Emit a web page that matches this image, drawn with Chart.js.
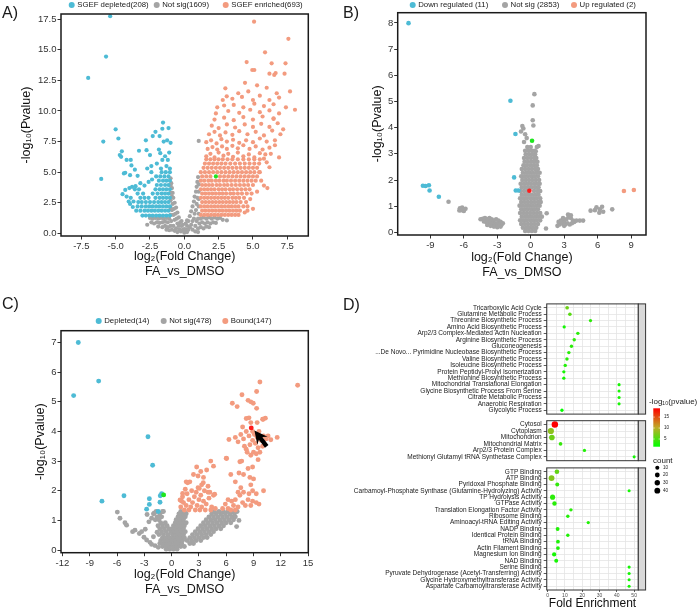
<!DOCTYPE html>
<html lang="en">
<head>
<meta charset="UTF-8">
<title>FA vs DMSO - volcano plots and enrichment</title>
<script src="https://cdn.jsdelivr.net/npm/chart.js@4.4.0/dist/chart.umd.min.js"></script>
<style>
  body { margin: 0; background: #fff; }
  #page { position: relative; width: 700px; height: 611px; overflow: hidden; font-family: "Liberation Sans", Arial, sans-serif; }
  canvas { position: absolute; }
  .tag { position: absolute; font-size: 16px; line-height: 16px; color: #1a1a1a; }
</style>
</head>
<body>
<div id="page">
  <canvas id="chartA" width="330" height="280" style="left:0;top:0"></canvas>
  <canvas id="chartB" width="350" height="281" style="left:350px;top:0"></canvas>
  <canvas id="chartC" width="330" height="300" style="left:0;top:300px"></canvas>
  <canvas id="chartD1" width="300" height="122" style="left:350px;top:298px"></canvas>
  <canvas id="chartD2" width="350" height="102" style="left:350px;top:398px"></canvas>
  <canvas id="chartD3" width="300" height="149" style="left:350px;top:462px"></canvas>
  <div class="tag" style="left:2px;top:5px">A)</div>
  <div class="tag" style="left:343px;top:5px">B)</div>
  <div class="tag" style="left:2px;top:296px">C)</div>
  <div class="tag" style="left:343px;top:297px">D)</div>
</div>

<script>
  // ---------- Panel A : SGEF pulldown ----------
  const depletedA = [
    [-5.4,17.75],[-5.7,14.45],[-7.0,12.7],[-5.0,8.5],[-5.9,7.5],[-4.8,7.75],[-6.05,4.45],
    [-4.55,6.7],[-4.7,6.4],[-4.6,6.25],[-4.2,6.0],[-3.9,6.0],[-3.85,5.55],[-4.3,4.95],[-4.4,4.9],
    [-3.95,4.75],[-3.4,4.7],[-3.6,5.2],[-3.3,6.75],[-2.8,7.6],[-2.3,7.95],[-1.8,7.95],[-1.6,8.55],
    [-1.15,8.6],[-1.55,9.05],[-2.1,8.3],[-1.5,7.5],[-1.25,7.6],[-1.0,7.4],[-1.85,6.85],[-1.75,6.55],
    [-2.75,6.8],[-2.5,6.4],[-1.4,6.3],[-1.1,6.6],[-1.2,6.0],[-1.6,6.0],[-2.0,5.7],[-2.4,5.5],
    [-1.3,5.5],[-1.05,5.3],[-1.7,5.3],[-3.8,3.8],[-3.55,3.85],[-4.0,3.7],[-4.3,3.55],[-4.5,3.2],
    [-4.2,3.0],[-3.9,2.9],[-3.7,2.6],[-3.95,2.4],[-3.75,2.15],[-4.05,2.6],[-2.6,4.2],[-2.4,5.0],
    [-2.7,5.3],[-2.35,4.4],[-2.9,3.9],[-3.2,4.1]
  ];
  // dense part of the depleted group: [-log10 p, log2 FC ...]
  const depletedRowsA = [
    [1.45, -1.05,-1.3,-1.55,-1.8,-2.05,-2.3,-2.55,-2.8,-3.05],
    [1.85, -1.15,-1.4,-1.65,-1.9,-2.15,-2.4,-2.65,-2.9,-3.2,-3.5],
    [2.2, -1.05,-1.3,-1.55,-1.8,-2.05,-2.3,-2.55,-2.8,-3.1,-3.4],
    [2.55, -1.15,-1.4,-1.65,-1.9,-2.2,-2.5,-2.8,-3.1,-3.35],
    [2.9, -1.05,-1.3,-1.55,-1.8,-2.1,-2.6,-2.9,-3.2],
    [3.25, -1.15,-1.4,-1.65,-1.95,-2.3,-3.0,-3.4],
    [3.6, -1.05,-1.3,-1.55,-1.8,-2.1,-3.3,-3.6],
    [3.95, -1.15,-1.4,-1.7,-2.0],
    [4.3, -1.05,-1.3,-1.55,-1.85],
    [4.65, -1.15,-1.45,-1.75,-2.05],
    [5.0, -1.05,-1.35,-1.65]
  ];
  const notSigA = [
    [-1.0,4.5],[-0.95,4.1],[-0.9,3.7],[-0.85,3.3],[-0.8,2.9],[-0.7,2.5],[-0.6,2.1],[-0.5,1.7],
    [-0.4,1.3],[-0.3,0.9],[-0.2,0.6],[-0.1,0.3],[0,0.05],[-1.0,3.9],[-1.0,3.3],[-1.0,2.7],
    [-1.0,2.1],[-1.0,1.5],[-0.9,3.0],[-0.85,2.4],[-0.9,1.9],[-0.75,2.0],[-0.8,1.5],[-0.65,1.6],
    [-0.7,1.1],[-0.55,1.2],[-0.5,0.8],[-0.4,0.6],[-0.35,0.3],[-0.25,0.15],[-0.6,0.4],[-0.8,0.6],
    [-0.95,1.0],[-1.1,1.2],[-1.3,1.25],[-1.5,1.2],[-1.7,1.25],[-1.9,1.2],[-2.1,1.25],[-2.3,1.2],
    [-2.5,1.25],[-2.7,0.7],[-1.2,0.9],[-1.4,0.95],[-1.6,0.9],[-1.8,0.85],[-2.0,0.9],[-2.2,0.8],
    [-2.4,0.9],[-1.0,0.6],[-1.2,0.5],[-1.4,0.6],[-1.6,0.5],[-1.9,0.55],[-0.7,0.2],[-0.9,0.3],
    [-1.1,0.25],[-1.3,0.3],[-0.5,0.1],[0,0.35],[-0.1,0.7],[0.1,0.8],[-0.2,1.0],[0.2,1.05],
    [1.0,4.6],[0.95,4.2],[0.9,3.8],[0.85,3.4],[0.75,3.0],[0.7,2.6],[0.6,2.2],[0.5,1.8],
    [0.4,1.4],[0.3,1.0],[0.2,0.6],[0.1,0.3],[1.05,4.0],[1.05,3.4],[1.05,2.8],[1.05,2.2],
    [1.05,1.6],[0.95,2.9],[0.9,2.4],[0.85,1.9],[0.75,1.6],[0.7,1.2],[0.6,1.0],[0.5,0.7],
    [0.4,0.5],[0.3,0.3],[0.2,0.1],[0.6,0.3],[0.8,0.6],[0.9,1.0],[1.0,1.2],[1.2,1.2],
    [1.4,1.3],[1.6,1.2],[1.8,1.3],[2.0,1.2],[2.2,1.3],[2.4,1.2],[2.6,1.25],[2.8,1.1],
    [3.1,1.05],[1.1,0.8],[1.3,0.9],[1.5,0.8],[1.7,0.9],[1.9,0.8],[2.1,0.9],[2.3,0.85],
    [1.0,0.4],[1.2,0.5],[1.4,0.4],[1.6,0.55],[1.8,0.5],[0.8,0.15],[1.0,0.1],[1.05,7.55]
  ];
  const enrichedRowsA = [
    [1.5, 1.2,1.45,1.7,1.95,2.2,2.45,2.7,2.95,3.2,3.45,3.7,3.95],
    [1.85, 1.3,1.55,1.8,2.05,2.3,2.55,2.8,3.05,3.3,3.55,3.8,4.05,4.6],
    [2.2, 1.2,1.45,1.7,1.95,2.2,2.45,2.7,2.95,3.2,3.45,3.7,3.95,4.3],
    [2.55, 1.3,1.55,1.8,2.05,2.3,2.55,2.8,3.05,3.3,3.55,3.8,4.1,4.5],
    [2.9, 1.2,1.45,1.7,1.95,2.2,2.45,2.7,2.95,3.2,3.5,3.75,4.0,4.35],
    [3.25, 1.3,1.55,1.8,2.05,2.3,2.55,2.8,3.05,3.35,3.6,3.9,4.2,4.55,4.9],
    [3.6, 1.2,1.45,1.7,1.95,2.2,2.5,2.75,3.0,3.3,3.55,3.85,4.15,4.45,4.75],
    [3.95, 1.3,1.55,1.8,2.05,2.35,2.6,2.9,3.15,3.45,3.75,4.05,4.35,4.65,5.0],
    [4.3, 1.2,1.45,1.75,2.0,2.3,2.55,2.85,3.1,3.4,3.7,4.0,4.3,4.6,4.9,5.2],
    [4.65, 1.3,1.6,1.9,2.6,2.9,3.2,3.5,3.8,4.1,4.4,4.7,5.0,5.3],
    [5.0, 1.2,1.5,1.8,2.1,2.4,2.7,3.0,3.3,3.6,3.9,4.2,4.5,4.8,5.1,5.45],
    [5.35, 1.4,1.7,2.0,2.3,2.6,2.9,3.2,3.5,3.8,4.1,4.4,4.7,5.0,5.3],
    [5.7, 1.5,1.8,2.1,2.4,2.7,3.0,3.35,3.7,4.05,4.4,4.75,5.1,5.45],
    [6.05, 1.6,1.9,2.2,2.5,2.8,3.15,3.5,3.9,4.3,4.7,5.1,5.5]
  ];
  const enrichedA = [
    [1.6,6.3],[1.9,6.5],[2.2,6.2],[2.5,6.6],[2.85,6.35],[3.2,6.5],[3.55,6.25],[3.9,6.6],[4.3,6.3],
    [4.7,6.45],[5.1,6.2],[5.5,6.55],[5.9,6.45],[1.7,6.9],[2.05,7.05],[2.4,6.85],[2.75,7.1],[3.1,6.9],
    [3.5,7.15],[3.9,6.95],[4.3,7.2],[4.75,6.9],[5.2,7.1],[5.7,6.85],[6.2,7.0],[1.6,7.45],[1.95,7.6],
    [2.35,7.35],[2.7,7.7],[3.1,7.5],[3.55,7.65],[4.0,7.4],[4.5,7.6],[5.0,7.45],[5.5,7.75],[6.0,7.5],
    [6.6,7.6],[1.8,8.1],[2.2,8.3],[2.6,8.0],[3.0,8.25],[3.5,8.05],[4.0,8.35],[4.6,8.1],[5.2,8.3],
    [5.8,8.0],[6.4,8.4],[2.0,8.8],[2.5,8.6],[3.1,8.9],[3.7,8.65],[4.4,8.9],[5.0,8.7],[5.6,8.95],
    [6.2,8.7],[6.8,9.0],[2.2,9.3],[2.9,9.45],[3.6,9.25],[4.3,9.5],[5.0,9.3],[5.7,9.55],[6.5,9.35],
    [2.3,9.8],[3.2,10.0],[4.0,9.85],[4.8,10.1],[5.5,9.9],[6.2,10.05],[6.9,9.8],[7.4,10.3],[8.06,10.1],
    [2.4,10.3],[2.9,10.45],[3.6,10.5],[4.3,10.3],[5.1,10.6],[5.8,10.4],[6.5,10.55],[2.8,10.9],
    [3.5,11.0],[4.2,11.15],[5.0,10.9],[5.5,11.25],[6.2,10.9],[6.9,11.1],[3.09,11.2],[3.93,11.45],
    [4.66,11.6],[6.73,11.45],[7.7,11.6],[2.99,11.85],[4.42,12.3],[5.3,12.1],[6.0,11.9],
    [6.2,13.05],[6.55,12.95],[6.65,13.1],[7.3,13.05],[4.95,13.35],[5.1,13.35],[4.54,14.0],
    [6.36,13.9],[7.37,13.9],[5.88,14.8],[7.58,15.9],[5.08,17.3],[6.05,3.7],[6.0,5.8],[6.3,6.5],
    [5.8,6.1],[6.6,7.2],[6.9,6.2],[7.0,8.1],[6.2,5.4],[5.6,4.3],[5.3,3.4],[4.8,2.8],[4.6,2.2],
    [4.4,1.7],[5.0,2.0],[5.8,3.9],[5.5,5.0],[7.2,8.5],[6.5,9.4]
  ];
  const markedA = [[2.3,4.65]];
  const xTicksA = [-7.5,-5,-2.5,0,2.5,5,7.5];
  const yTicksA = [0,2.5,5,7.5,10,12.5,15,17.5];

  // ---------- Panel B ----------
  const downB = [
    [-10.96,7.99],[-1.82,5.03],[-1.37,3.76],[-1.49,2.1],[-1.34,1.6],[-1.1,1.6],
    [-9.67,1.78],[-9.43,1.77],[-9.13,1.8],[-9.07,1.6],[-8.24,1.36]
  ];
  const upB = [[8.36,1.58],[9.25,1.62]];
  const notSigRowsB = [
    [0.05, -0.5,-0.2,0.1,0.4],
    [0.18, -0.7,-0.4,-0.1,0.2,0.5],
    [0.32, -0.85,-0.55,-0.25,0.05,0.35,0.65],
    [0.46, -0.95,-0.65,-0.35,-0.05,0.25,0.55,0.85],
    [0.6, -0.8,-0.5,-0.2,0.1,0.4,0.7,1.0],
    [0.74, -0.95,-0.65,-0.35,-0.05,0.25,0.55,0.85],
    [0.88, -0.85,-0.55,-0.25,0.05,0.35,0.65],
    [1.02, -1.0,-0.7,-0.4,-0.1,0.2,0.5,0.8],
    [1.16, -0.85,-0.55,-0.25,0.05,0.35,0.65,0.9],
    [1.3, -0.95,-0.65,-0.35,-0.05,0.25,0.55,0.85],
    [1.44, -0.8,-0.5,-0.2,0.1,0.4,0.7],
    [1.58, -0.9,-0.6,-0.3,0.3,0.6,0.85],
    [1.72, -0.8,-0.5,-0.2,0.1,0.4,0.7],
    [1.86, -0.9,-0.6,-0.3,0.0,0.3,0.6,0.8],
    [2.0, -0.75,-0.45,-0.15,0.15,0.45,0.75],
    [2.14, -0.85,-0.55,-0.25,0.05,0.35,0.65],
    [2.28, -0.7,-0.4,-0.1,0.2,0.5,0.8],
    [2.42, -0.8,-0.5,-0.2,0.1,0.4,0.65],
    [2.56, -0.65,-0.35,-0.05,0.25,0.55],
    [2.7, -0.55,-0.25,0.05,0.35,0.6],
    [2.84, -0.6,-0.3,0.0,0.3,0.5],
    [2.98, -0.45,-0.15,0.15,0.4],
    [3.12, -0.5,-0.2,0.1,0.35],
    [3.26, -0.3,0.0,0.55]
  ];
  const notSigB = [
    [-0.75,4.06],[-0.66,3.97],[-0.87,3.85],[-0.5,3.75],[-0.36,3.6],[-0.6,3.45],[0.33,5.28],
    [0.18,4.85],[0.18,4.28],[0.24,4.08],[0.7,3.3],[0.45,3.1],[1.43,0.73],[1.37,0.15],
    [-7.37,1.17],[-6.35,0.92],[-6.15,0.95],[-5.95,0.88],[-6.25,0.85],[-6.4,0.84],[-6.0,0.82],[-5.85,0.9],
    [-4.3,0.52],[-4.1,0.55],[-3.9,0.5],[-3.7,0.55],[-3.5,0.5],[-3.3,0.45],[-3.1,0.5],[-2.9,0.45],
    [-2.7,0.4],[-4.2,0.42],[-4.0,0.4],[-3.8,0.38],[-3.6,0.4],[-3.4,0.35],[-3.2,0.32],[-3.0,0.35],
    [-2.8,0.3],[-2.6,0.3],[-3.9,0.28],[-3.6,0.25],[-3.3,0.22],[-3.0,0.2],[-2.7,0.22],[-2.5,0.35],
    [-4.5,0.5],[2.4,0.25],[2.6,0.3],[2.8,0.35],[3.0,0.4],[3.2,0.5],[3.4,0.6],[3.6,0.55],[3.8,0.45],
    [2.7,0.45],[2.9,0.55],[3.1,0.3],[3.3,0.35],[3.5,0.3],[3.7,0.35],[3.9,0.4],[4.1,0.45],[4.4,0.45],
    [4.7,0.45],[2.5,0.4],[3.0,0.25],[3.35,0.68],[3.6,0.65],[5.37,0.83],[5.76,0.85],[5.9,0.96],
    [6.2,0.88],[6.4,0.98],[6.15,0.75],[6.5,0.79],[7.31,0.88]
  ];
  const markedGreenB = [[0.12,3.5]];
  const markedRedB = [[-0.12,1.59]];
  const xTicksB = [-9,-6,-3,0,3,6,9];
  const yTicksB = [0,1,2,3,4,5,6,7,8];

  // ---------- Panel C ----------
  const depletedC = [
    [-10.26,7.0],[-8.02,5.7],[-10.77,5.21],[-2.6,3.82],[-2.09,2.86],[-7.66,1.65],[-5.24,1.83],
    [-2.45,1.73],[-2.45,1.54],[-2.75,1.38],[-1.25,1.83],[-1.28,1.61],[-1.47,1.3],[-1.1,1.9]
  ];
  const boundC = [
    [1.0,1.45],[1.3,1.6],[1.2,1.8],[1.6,1.5],[1.9,1.7],[1.7,1.9],[2.1,1.45],[2.3,1.6],[2.5,1.8],
    [2.2,2.0],[2.8,1.5],[3.0,1.7],[2.7,1.95],[3.3,1.45],[3.5,1.65],[3.2,1.85],[3.8,1.55],[4.1,1.75],
    [3.6,2.0],[4.4,1.45],[4.0,1.95],[2.9,2.1],[1.4,1.35],[1.9,1.35],[2.6,1.35],[3.1,1.35],[3.7,1.35],
    [4.3,1.35],[4.8,1.4],[4.6,1.85],[1.5,2.05],[2.0,2.3],[1.6,2.3],[2.4,2.55],[2.75,2.8],[3.2,2.65],
    [2.9,2.5],[3.5,2.45],[3.85,2.7],[4.3,3.0],[4.6,2.83],[3.3,2.2],[4.0,2.15],[4.2,1.95],[1.1,1.65],
    [0.92,1.69],[1.21,1.91],[1.76,2.27],[3.48,2.27],[3.04,2.08],[4.73,1.88],
    [5.6,1.4],[5.9,1.55],[6.2,1.4],[6.5,1.35],[6.8,1.5],[7.0,1.35],[7.3,1.45],[7.0,1.7],[6.6,1.65],
    [7.5,1.85],[7.8,1.6],[8.1,1.5],[8.4,1.7],[8.7,1.5],[8.5,1.9],[8.9,1.65],[7.9,1.95],[7.3,1.95],
    [6.2,1.7],[9.3,1.9],[10.1,2.0],[7.0,2.3],[8.6,2.45],[8.9,2.8],[7.4,2.6],[6.0,3.1],[7.5,2.98],
    [7.7,3.0],[6.3,3.73],[8.2,3.4],[7.0,3.8],[7.3,3.65],[7.6,3.9],[7.9,3.75],[8.2,4.0],[8.5,3.85],
    [8.0,3.5],[8.6,3.55],[8.9,3.7],[9.2,3.6],[9.5,3.45],[9.1,3.9],[9.4,3.8],[9.8,3.7],[10.1,3.85],
    [10.4,3.75],[10.6,3.85],[10.9,3.72],[11.6,3.8],[9.0,3.3],[8.7,3.2],[9.3,3.25],[8.3,3.3],
    [7.8,4.15],[8.2,4.44],[8.5,4.46],[8.9,4.0],[9.6,4.0],[10.0,4.41],[10.3,4.45],[9.4,4.3],[8.7,4.3],
    [10.0,3.5],[9.7,3.3],[13.85,5.56],[9.7,5.67],[9.34,5.35],[7.73,5.24],[8.4,5.05],[8.7,5.0],
    [8.97,4.95],[6.67,4.95],[7.2,4.84],[9.34,4.78],[10.07,4.41],[6.04,3.09],[6.5,2.55],[7.9,2.55],
    [9.0,2.4],[8.7,2.2],[7.6,2.1],[8.9,2.0],[9.3,1.6],[9.6,1.55],[9.5,3.05],[8.4,2.75]
  ];
  const notSigRowsC = [
    [0.03, -0.6,-0.2,0.2,0.6],
    [0.12, -1.0,-0.6,-0.2,0.2,0.6,1.0,1.4],
    [0.22, -1.3,-0.9,-0.5,-0.1,0.3,0.7,1.1,2.0,2.4],
    [0.32, -1.2,-0.8,-0.4,0.0,0.4,0.8,1.2,1.7,2.2,2.7,3.2],
    [0.42, -1.0,-0.6,-0.2,0.2,0.6,1.0,1.4,2.0,2.5,3.0,3.5,3.9],
    [0.52, -1.4,-0.9,-0.4,0.1,0.5,0.9,1.3,2.3,2.8,3.3,3.8,4.3],
    [0.62, -1.1,-0.6,-0.1,0.3,0.7,1.1,1.5,2.6,3.1,3.6,4.1,4.6],
    [0.72, -1.3,-0.8,-0.3,0.1,0.5,0.9,1.3,2.9,3.4,3.9,4.4,4.9,5.4],
    [0.82, -1.5,-1.0,-0.5,0.2,0.6,1.0,1.4,3.2,3.7,4.2,4.7,5.2,5.7],
    [0.92, -1.2,-0.7,0.4,0.8,1.2,1.6,3.5,4.0,4.5,5.0,5.5,6.0,6.5],
    [1.02, -1.8,-1.4,0.5,0.9,1.3,3.8,4.3,4.8,5.3,5.8,6.3,6.8],
    [1.12, -1.6,-1.1,0.7,1.1,1.5,4.1,4.6,5.1,5.6,6.1,6.6,7.0],
    [1.22, -2.0,-1.3,0.8,1.2,1.6,4.4,4.9,5.4,5.9,6.4,6.9],
    [1.3, -1.7,-0.9,1.0,1.4,4.7,5.2,5.7,6.2,6.7,7.2]
  ];
  const notSigC = [
    [-5.97,1.28],[-5.68,1.07],[-5.13,0.92],[-4.95,0.84],[-4.29,0.62],[-4.03,0.67],[-3.55,0.56],
    [-3.04,0.43],[-2.75,0.34],[-2.38,0.26],[-2.2,0.19],[-1.83,0.15],[-1.47,0.09],[-2.2,1.07],
    [-2.5,0.95],[-2.7,1.2],[-1.9,1.25],[-2.9,0.7],[-3.3,0.62],[-1.6,0.6],[-2.0,0.45],[7.14,0.79],
    [7.4,1.0],[-1.0,1.3],[-1.3,1.1]
  ];
  const markedGreenC = [[-0.88,1.86]];
  const markedRedC = [[8.75,4.12]];
  const arrowC = { tip: [9.1,4.03], tail: [10.45,3.5] };
  const xTicksC = [-12,-9,-6,-3,0,3,6,9,12,15];
  const yTicksC = [0,1,2,3,4,5,6,7];

  // ---------- Panel D : enrichment ----------
  const termsBP = [
    'Tricarboxylic Acid Cycle','Glutamine Metabolic Process','Threonine Biosynthetic Process',
    'Amino Acid Biosynthetic Process','Arp2/3 Complex-Mediated Actin Nucleation','Arginine Biosynthetic Process',
    'Gluconeogenesis','...De Novo... Pyrimidine Nucleobase Biosynthetic Process','Valine Biosynthetic Process',
    'Isoleucine Biosynthetic Process','Protein Peptidyl-Prolyl Isomerization','Methionine Biosynthetic Process',
    'Mitochondrial Translational Elongation','Glycine Biosynthetic Process From Serine','Citrate Metabolic Process',
    'Anaerobic Respiration','Glycolytic Process'
  ];
  const foldBP = [11.3,12.9,24.8,9.6,17.5,15.4,13.8,12.3,11.2,10.2,9.4,9.4,41.3,41.3,41.3,41.3,8.3];
  const countBP = [6,5,3,3,4,4,4,4,4,4,3,3,2,2,2,2,3];
  const logpBP = [6.5,5.5,3.5,2.5,3.4,3.6,3.5,3.4,3.3,3.1,2.5,2.5,2.6,2.6,2.6,2.6,1.6];

  const termsCC = [
    'Cytosol','Cytoplasm','Mitochondrion','Mitochondrial Matrix','Arp2/3 Protein Complex',
    'Methionyl Glutamyl tRNA Synthetase Complex'
  ];
  const foldCC = [4.2,1.9,2.5,7.5,21.3,50];
  const countCC = [55,48,35,6,3,2];
  const logpCC = [19,8,6.5,4,3,2.4];

  const termsMF = [
    'GTP Binding','ATP Binding','Pyridoxal Phosphate Binding',
    'Carbamoyl-Phosphate Synthase (Glutamine-Hydrolyzing) Activity','TP Hydrolysis Activity','GTPase Activity',
    'Translation Elongation Factor Activity','Ribosome Binding','Aminoacyl-tRNA Editing Activity','NADP Binding',
    'Identical Protein Binding','tRNA Binding','Actin Filament Binding','Magnesium Ion Binding','NAD Binding',
    'Serine Binding','Pyruvate Dehydrogenase (Acetyl-Transferring) Activity','Glycine Hydroxymethyltransferase Activity',
    'Aspartate Carbamoyltransferase Activity'
  ];
  const foldMF = [5.4,2.3,5.6,47.1,2.9,4.0,13.5,11.7,23.5,5.8,11.7,6.0,6.0,3.8,5.0,47.1,47.1,47.1,47.1];
  const countMF = [18,40,9,2,25,14,4,4,3,8,4,7,7,12,9,2,2,2,2];
  const logpMF = [6,7.5,3.8,2.5,3.5,3.4,3.4,3.1,3.0,3.0,3.0,2.8,2.8,2.5,2.5,2.4,2.4,2.4,2.4];

  const foldTicks = [0,5,10,15,20,25,30,35,40,45,50];
  const pvalLimits = [1.5,19];
  const pvalBreaks = [5,10,15];
  const countBreaks = [10,20,30,40];

  // ---------- helpers ----------
  const pts = list => list.map(([x, y]) => ({x, y}));
  const rowPts = rows => rows.flatMap(([y, ...xs]) => xs.map(x => ({x, y})));

  const BLUE = '#4DBBD5', GREY = '#a4a4a4', SALMON = '#F39B7F', GREEN = '#1ee61e', RED = '#ff1a1a';

  function pColour(v) {
    const t = Math.min(1, Math.max(0, (v - pvalLimits[0]) / (pvalLimits[1] - pvalLimits[0])));
    const stops = [[0, [0,255,0]], [0.5, [190,172,40]], [1, [255,0,0]]];
    let i = t <= 0.5 ? 0 : 1;
    const [t0, c0] = stops[i], [t1, c1] = stops[i + 1];
    const k = (t - t0) / (t1 - t0);
    const c = c0.map((a, j) => Math.round(a + (c1[j] - a) * k));
    return `rgb(${c[0]},${c[1]},${c[2]})`;
  }
  const dotSize = n => 1.15 + 0.28 * Math.sqrt(n);

  // panel border (+ facet strip on the right for panel D)
  const frameBox = {
    id: 'frameBox',
    afterDatasetsDraw(chart, args, opts) {
      if (!opts || !opts.color) return;
      const {ctx, chartArea: a} = chart;
      ctx.save();
      ctx.strokeStyle = opts.color;
      ctx.lineWidth = opts.width;
      ctx.strokeRect(a.left, a.top, a.right - a.left, a.bottom - a.top);
      if (opts.strip) {
        ctx.fillStyle = '#d9d9d9';
        ctx.fillRect(a.right, a.top, opts.strip, a.bottom - a.top);
        ctx.strokeRect(a.right, a.top, opts.strip, a.bottom - a.top);
      }
      ctx.restore();
    }
  };

  // legend row above the volcano plots
  const dotLegend = {
    id: 'dotLegend',
    afterDraw(chart, args, opts) {
      if (!opts || !opts.xs) return;
      const ctx = chart.ctx;
      const sets = chart.data.datasets.filter(d => d.inLegend);
      ctx.save();
      ctx.font = '7.8px "Liberation Sans", Arial, sans-serif';
      ctx.textBaseline = 'middle';
      sets.forEach((d, i) => {
        const x = opts.xs[i];
        ctx.fillStyle = d.backgroundColor;
        ctx.beginPath();
        ctx.arc(x, opts.y, 3, 0, Math.PI * 2);
        ctx.fill();
        ctx.fillStyle = '#1a1a1a';
        ctx.fillText(d.label, x + 5.5, opts.y);
      });
      ctx.restore();
    }
  };

  // black pointer arrow in panel C
  const arrowMark = {
    id: 'arrowMark',
    afterDatasetsDraw(chart, args, opts) {
      if (!opts || !opts.tip) return;
      const {ctx, scales: {x, y}} = chart;
      const tx = x.getPixelForValue(opts.tip[0]), ty = y.getPixelForValue(opts.tip[1]);
      const bx = x.getPixelForValue(opts.tail[0]), by = y.getPixelForValue(opts.tail[1]);
      const len = Math.hypot(bx - tx, by - ty);
      const ux = (bx - tx) / len, uy = (by - ty) / len, nx = -uy, ny = ux;
      const P = (a, b) => [tx + ux * a + nx * b, ty + uy * a + ny * b];
      const shape = [P(0, 0), P(13, 6.5), P(10, 2.2), P(len, 2.2), P(len, -2.2), P(10, -2.2), P(13, -6.5)];
      ctx.save();
      ctx.fillStyle = '#000';
      ctx.beginPath();
      shape.forEach((p, i) => i ? ctx.lineTo(p[0], p[1]) : ctx.moveTo(p[0], p[1]));
      ctx.closePath();
      ctx.fill();
      ctx.restore();
    }
  };

  // colour bar + size legend for panel D (drawn on the middle facet canvas)
  const enrichLegend = {
    id: 'enrichLegend',
    afterDraw(chart, args, opts) {
      if (!opts || opts.ox === undefined) return;
      const ctx = chart.ctx;
      const X = v => v - opts.ox, Y = v => v - opts.oy;
      const font = s => `${s}px "Liberation Sans", Arial, sans-serif`;
      ctx.save();
      ctx.fillStyle = '#1a1a1a';
      ctx.textBaseline = 'middle';
      ctx.font = font(8);
      ctx.fillText('-log\u2081\u2080(pvalue)', X(649), Y(402));

      const top = 408.3, bottom = 446.7, left = 653.3, w = 6.7;
      const g = ctx.createLinearGradient(0, Y(bottom), 0, Y(top));
      for (let k = 0; k <= 20; k++) {
        const v = pvalLimits[0] + (pvalLimits[1] - pvalLimits[0]) * k / 20;
        g.addColorStop(k / 20, pColour(v));
      }
      ctx.fillStyle = g;
      ctx.fillRect(X(left), Y(top), w, bottom - top);
      const posOf = v => bottom - (v - pvalLimits[0]) / (pvalLimits[1] - pvalLimits[0]) * (bottom - top);
      ctx.strokeStyle = '#fff';
      ctx.lineWidth = 0.6;
      ctx.font = font(4.6);
      pvalBreaks.forEach(v => {
        const yy = Y(posOf(v));
        ctx.beginPath();
        ctx.moveTo(X(left), yy); ctx.lineTo(X(left) + 1.4, yy);
        ctx.moveTo(X(left) + w - 1.4, yy); ctx.lineTo(X(left) + w, yy);
        ctx.stroke();
        ctx.fillStyle = '#1a1a1a';
        ctx.fillText(String(v), X(664), yy);
      });

      ctx.font = font(8);
      ctx.fillStyle = '#1a1a1a';
      ctx.fillText('count', X(653), Y(461));
      const rows = [467.7, 475, 482.7, 490.7];
      ctx.font = font(4.6);
      countBreaks.forEach((n, i) => {
        ctx.fillStyle = '#000';
        ctx.beginPath();
        ctx.arc(X(657.3), Y(rows[i]), dotSize(n), 0, Math.PI * 2);
        ctx.fill();
        ctx.fillStyle = '#1a1a1a';
        ctx.fillText(String(n), X(663), Y(rows[i]));
      });
      ctx.restore();
    }
  };

  const FONT = '"Liberation Sans", Arial, sans-serif';

  function volcano(id, cfg) {
    const sets = cfg.sets.map(s => ({
      label: s.label,
      data: s.data,
      inLegend: s.inLegend,
      order: s.order,
      backgroundColor: s.color,
      pointBackgroundColor: s.color,
      pointBorderWidth: 0,
      borderWidth: 0,
      pointRadius: cfg.r,
      pointHoverRadius: cfg.r
    }));
    return new Chart(document.getElementById(id), {
      type: 'scatter',
      data: { datasets: sets },
      options: {
        responsive: false,
        animation: false,
        devicePixelRatio: 1,
        layout: { padding: cfg.pad },
        events: [],
        plugins: {
          legend: { display: false },
          tooltip: { enabled: false },
          frameBox: { color: '#1a1a1a', width: 1.5 },
          dotLegend: { xs: cfg.legendX, y: cfg.legendY },
          arrowMark: cfg.arrow || {}
        },
        scales: {
          x: {
            type: 'linear', min: cfg.xr[0], max: cfg.xr[1],
            afterBuildTicks: s => { s.ticks = cfg.xt.map(v => ({value: v})); },
            afterFit: s => { s.height = cfg.xh; },
            grid: { drawOnChartArea: false, tickLength: 3.5, tickColor: '#333', tickWidth: 1 },
            border: { display: false },
            ticks: { font: { size: 9.5, family: FONT }, color: '#333', padding: 1.5, maxRotation: 0, autoSkip: false,
                     callback: cfg.xfmt },
            title: { display: true, text: ['log\u2082(Fold Change)', 'FA_vs_DMSO'], color: '#111',
                     font: { size: 12.5, family: FONT }, padding: 0 }
          },
          y: {
            type: 'linear', min: cfg.yr[0], max: cfg.yr[1],
            afterBuildTicks: s => { s.ticks = cfg.yt.map(v => ({value: v})); },
            afterFit: s => { s.width = cfg.yw; },
            grid: { drawOnChartArea: false, tickLength: 3.5, tickColor: '#333', tickWidth: 1 },
            border: { display: false },
            ticks: { font: { size: 9.5, family: FONT }, color: '#333', padding: 1, autoSkip: false,
                     callback: cfg.yfmt },
            title: { display: true, text: '-log\u2081\u2080(Pvalue)', color: '#111',
                     font: { size: 12.5, family: FONT }, padding: 0 }
          }
        }
      },
      plugins: [frameBox, dotLegend, arrowMark]
    });
  }

  const oneDec = v => Number(v).toFixed(1);
  const plain = v => String(v);

  volcano('chartA', {
    r: 2.1,
    pad: { left: 19.5, top: 14, right: 21.7, bottom: 0.8 }, yw: 41.5, xh: 43.2,
    xr: [-8.98, 9.03], yr: [-0.22, 17.93], xt: xTicksA, yt: yTicksA, xfmt: oneDec, yfmt: oneDec,
    legendX: [71.7, 156.7, 225.7], legendY: 5,
    sets: [
      { label: 'SGEF depleted(208)', data: pts(depletedA).concat(rowPts(depletedRowsA)), color: BLUE, inLegend: true, order: 2 },
      { label: 'Not sig(1609)', data: pts(notSigA), color: GREY, inLegend: true, order: 3 },
      { label: 'SGEF enriched(693)', data: rowPts(enrichedRowsA).concat(pts(enrichedA)), color: SALMON, inLegend: true, order: 1 },
      { label: 'marked', data: pts(markedA), color: GREEN, inLegend: false, order: 0 }
    ]
  });

  volcano('chartB', {
    r: 2.3,
    pad: { left: 20, top: 12.7, right: 54, bottom: 0.8 }, yw: 27.7, xh: 45.2,
    xr: [-11.93, 10.34], yr: [-0.1, 8.39], xt: xTicksB, yt: yTicksB, xfmt: plain, yfmt: plain,
    legendX: [62.7, 155, 224], legendY: 5,
    sets: [
      { label: 'Down regulated (11)', data: pts(downB), color: BLUE, inLegend: true, order: 2 },
      { label: 'Not sig (2853)', data: rowPts(notSigRowsB).concat(pts(notSigB)), color: GREY, inLegend: true, order: 3 },
      { label: 'Up regulated (2)', data: pts(upB), color: SALMON, inLegend: true, order: 1 },
      { label: 'marked green', data: pts(markedGreenB), color: GREEN, inLegend: false, order: 0 },
      { label: 'marked red', data: pts(markedRedB), color: RED, inLegend: false, order: 0 }
    ]
  });

  volcano('chartC', {
    r: 2.45,
    pad: { left: 33.3, top: 30.7, right: 21.7, bottom: 2.5 }, yw: 27.7, xh: 44.8,
    xr: [-12.16, 15.02], yr: [-0.09, 7.4], xt: xTicksC, yt: yTicksC, xfmt: plain, yfmt: plain,
    legendX: [98.7, 163.7, 225.3], legendY: 21,
    arrow: arrowC,
    sets: [
      { label: 'Depleted(14)', data: pts(depletedC), color: BLUE, inLegend: true, order: 2 },
      { label: 'Not sig(478)', data: rowPts(notSigRowsC).concat(pts(notSigC)), color: GREY, inLegend: true, order: 3 },
      { label: 'Bound(147)', data: pts(boundC), color: SALMON, inLegend: true, order: 1 },
      { label: 'marked green', data: pts(markedGreenC), color: GREEN, inLegend: false, order: 0 },
      { label: 'marked red', data: pts(markedRedC), color: RED, inLegend: false, order: 0 }
    ]
  });

  function facet(id, terms, fold, count, logp, cfg) {
    return new Chart(document.getElementById(id), {
      type: 'scatter',
      data: {
        datasets: [{
          data: fold.map((f, i) => ({x: f, y: i + 1})),
          pointBackgroundColor: logp.map(pColour),
          pointBorderWidth: 0,
          pointRadius: count.map(dotSize),
          pointHoverRadius: count.map(dotSize)
        }]
      },
      options: {
        responsive: false,
        animation: false,
        devicePixelRatio: 1,
        events: [],
        layout: { padding: cfg.pad },
        plugins: {
          legend: { display: false },
          tooltip: { enabled: false },
          frameBox: { color: '#333', width: 1, strip: 7.3 },
          enrichLegend: cfg.legend || {}
        },
        scales: {
          x: {
            type: 'linear', min: -0.5, max: 52.4,
            afterBuildTicks: s => { s.ticks = foldTicks.map(v => ({value: v})); },
            afterFit: s => { s.height = cfg.xh; },
            grid: { color: '#e4e4e4', lineWidth: 0.8, drawTicks: cfg.showX, tickLength: 2,
                    tickColor: c => (c.tick && c.tick.value % 10 === 0) ? '#333' : 'rgba(0,0,0,0)' },
            border: { display: false },
            ticks: { display: cfg.showX, font: { size: 5, family: FONT }, color: '#4d4d4d', padding: 1,
                     maxRotation: 0, autoSkip: false, callback: v => (v % 10 === 0 ? String(v) : '') },
            title: { display: cfg.showX, text: 'Fold Enrichment', color: '#111',
                     font: { size: 12, family: FONT }, padding: 0 }
          },
          y: {
            type: 'linear', reverse: true, min: 0.4, max: terms.length + 0.6,
            afterBuildTicks: s => { s.ticks = terms.map((t, i) => ({value: i + 1})); },
            afterFit: s => { s.width = cfg.yw; },
            grid: { color: '#e4e4e4', lineWidth: 0.8, tickLength: 3, tickColor: '#333' },
            border: { display: false },
            ticks: { font: { size: 6.5, family: FONT }, color: '#1a1a1a', padding: 2, autoSkip: false,
                     callback: v => terms[Math.round(v) - 1] }
          }
        }
      },
      plugins: [frameBox, enrichLegend]
    });
  }

  facet('chartD1', termsBP, foldBP, countBP, logpBP, {
    pad: { left: 0, top: 5.3, right: 11.7, bottom: 2.3 }, yw: 196.7, xh: 0, showX: false
  });
  facet('chartD2', termsCC, foldCC, countCC, logpCC, {
    pad: { left: 0, top: 22.7, right: 61.7, bottom: 39.3 }, yw: 196.7, xh: 0, showX: false,
    legend: { ox: 350, oy: 398 }
  });
  facet('chartD3', termsMF, foldMF, countMF, logpMF, {
    pad: { left: 0, top: 2, right: 11.7, bottom: 0 }, yw: 196.7, xh: 21, showX: true
  });
</script>
</body>
</html>
